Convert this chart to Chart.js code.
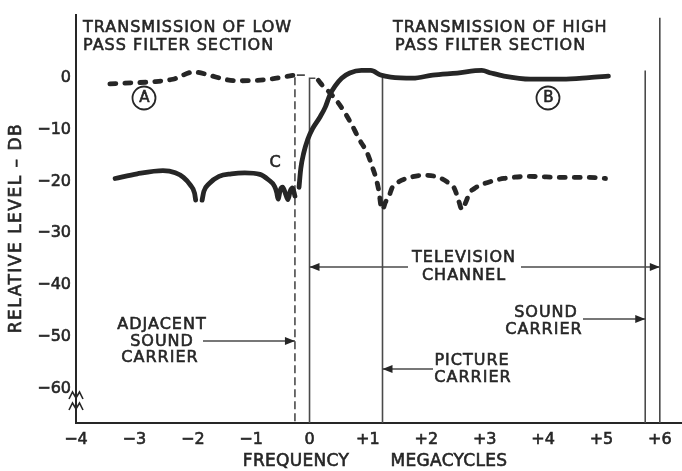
<!DOCTYPE html>
<html>
<head>
<meta charset="utf-8">
<title>Low and high pass filter transmission</title>
<script src="https://cdn.jsdelivr.net/npm/chart.js@4.4.1/dist/chart.umd.min.js"></script>
<style>
  html, body { margin: 0; padding: 0; background: #fff; }
  #wrap { width: 682px; height: 471px; }
</style>
</head>
<body>
<div id="wrap"><canvas id="filterChart" width="682" height="471"></canvas></div>
<script>
// frequency in megacycles from the lower channel edge, level in db
const freqTicks = [-4, -3, -2, -1, 0, 1, 2, 3, 4, 5, 6];
const levelTicks = [0, -10, -20, -30, -40, -50, -60];

// high pass filter section (B); null breaks the curve between lobes
const highPassFreq = [
  -3.33, -2.95, -2.51, -2.30, -2.16, -2.04, -1.97, -1.95, -1.90,
  -1.84, -1.81, -1.72, -1.55, -1.34, -1.11, -0.85, -0.71, -0.60, -0.56, -0.54,
  -0.50, -0.46, -0.41, -0.37, -0.33, -0.29, -0.25, -0.21,
  -0.18, -0.15, -0.10, -0.03, 0.05, 0.18, 0.27, 0.35, 0.44, 0.55, 0.69, 0.89,
  1.05, 1.22, 1.39, 1.77, 2.11, 2.53, 2.95, 3.11, 3.33, 3.78, 4.33, 4.79, 5.12
];
const highPassLevel = [
  -19.4, -18.5, -17.9, -18.3, -19.2, -20.7, -22.2, -23.6, null,
  -23.6, -21.9, -20.4, -19.0, -18.5, -18.3, -18.6, -19.6, -20.9, -22.2, -23.4,
  -21.6, -21.1, -22.4, -23.5, -21.8, -21.2, -22.8, null,
  -21.1, -17.5, -14.5, -11.8, -9.8, -7.5, -5.6, -3.2, -1.5, 0.0, 1.0, 1.5,
  1.5, 0.6, 0.2, 0.0, 0.6, 1.0, 1.5, 1.0, 0.4, -0.2, -0.2, 0.1, 0.4
];

// low pass filter section (A)
const lowPassFreq = [
  -3.42, -3.04, -2.69, -2.34, -1.98, -1.72, -1.46, -1.23, -0.76, -0.36, -0.25, 0.0,
  0.15, 0.23, 0.38, 0.55, 0.72, 0.85, 0.99, 1.07, 1.14, 1.19, 1.22, 1.25,
  1.30, 1.36, 1.41, 1.52, 1.72, 1.94, 2.16, 2.36, 2.48, 2.56, 2.61, 2.68, 2.74,
  2.83, 2.95, 3.16, 3.33, 3.78, 4.33, 4.79, 5.07
];
const lowPassLevel = [
  -1.1, -0.9, -0.7, -0.2, 1.2, 0.6, -0.2, -0.5, -0.3, 0.4, 0.6, null,
  -0.4, -1.5, -3.2, -5.7, -8.9, -11.8, -14.5, -17.0, -19.4, -22.0, -24.5, -25.4,
  -24.0, -22.9, -21.3, -20.1, -19.2, -18.8, -19.0, -20.1, -21.3, -23.9, -25.4, -23.9, -22.2,
  -21.3, -20.6, -19.8, -19.4, -19.0, -19.2, -19.2, -19.4
];

// carrier and channel edge markers, and the level each marker line starts at
const adjacentSoundCarrier = -0.25;
const channelLow = 0;
const pictureCarrier = 1.25;
const soundCarrier = 5.75;
const channelHigh = 6;
const markerFreqs = [adjacentSoundCarrier, channelLow, pictureCarrier, soundCarrier, channelHigh];
const markerTops = [0.6, 0.0, 0.4, 1.5, 11.7];

const X_MIN = -4, X_MAX = 6.38;
const Y_MIN = -66.7, Y_MAX = 12.3;

const INK = '#262626';
const THIN = '#4a4a4a';
const FONT = '"DejaVu Sans", sans-serif';

function toPoints(xs, ys) {
  return xs.map((v, i) => ({ x: v, y: ys[i] }));
}

function markerLine(i, hook) {
  const f = markerFreqs[i], top = markerTops[i];
  const pts = [];
  if (hook) pts.push({ x: f + hook, y: top });
  pts.push({ x: f, y: top }, { x: f, y: Y_MIN });
  return pts;
}

// lettering is filled and lightly stroked to give it the pen weight
function text(ctx, str, px, py, align, size, spacing) {
  ctx.font = size + 'px ' + FONT;
  ctx.letterSpacing = (spacing || 0) + 'px';
  ctx.textAlign = align;
  ctx.textBaseline = 'middle';
  ctx.fillText(str, px, py);
  ctx.save();
  ctx.strokeStyle = INK;
  ctx.lineWidth = 0.6;
  ctx.strokeText(str, px, py);
  ctx.restore();
}

function arrowHead(ctx, tipX, py, dir) {
  ctx.beginPath();
  ctx.moveTo(tipX, py);
  ctx.lineTo(tipX - dir * 10, py - 4);
  ctx.lineTo(tipX - dir * 10, py + 4);
  ctx.closePath();
  ctx.fill();
}

function hLine(ctx, x1, x2, py) {
  ctx.beginPath();
  ctx.moveTo(x1, py);
  ctx.lineTo(x2, py);
  ctx.stroke();
}

// labels, arrows and axis break marks
const annotations = {
  id: 'annotations',
  afterDraw(chart) {
    const { ctx, scales: { x } } = chart;
    ctx.save();
    ctx.fillStyle = INK;
    ctx.strokeStyle = THIN;
    ctx.lineWidth = 1.6;

    text(ctx, 'TRANSMISSION OF LOW', 83, 28, 'left', 16, 1);
    text(ctx, 'PASS FILTER SECTION', 83, 46, 'left', 16, 1);
    text(ctx, 'TRANSMISSION OF HIGH', 393, 28, 'left', 16, 1);
    text(ctx, 'PASS FILTER SECTION', 395, 46, 'left', 16, 1);

    // circled section letters
    [['A', 144], ['B', 548]].forEach(([ch, cx]) => {
      ctx.beginPath();
      ctx.arc(cx, 98, 11.5, 0, Math.PI * 2);
      ctx.lineWidth = 1.8;
      ctx.strokeStyle = INK;
      ctx.stroke();
      text(ctx, ch, cx + 0.5, 98.5, 'center', 15, 0);
    });
    text(ctx, 'C', 275, 163, 'center', 16, 0);

    ctx.strokeStyle = THIN;
    ctx.lineWidth = 1.6;

    // television channel span
    const lowPx = x.getPixelForValue(channelLow);
    const highPx = x.getPixelForValue(channelHigh);
    const tvY = 267;
    hLine(ctx, lowPx, 408, tvY);
    hLine(ctx, 521, highPx, tvY);
    arrowHead(ctx, lowPx, tvY, -1);
    arrowHead(ctx, highPx, tvY, 1);
    text(ctx, 'TELEVISION', 464, 258, 'center', 16, 1);
    text(ctx, 'CHANNEL', 464, 276, 'center', 16, 1);

    // adjacent sound carrier
    const adjPx = x.getPixelForValue(adjacentSoundCarrier);
    hLine(ctx, 203, adjPx, 341);
    arrowHead(ctx, adjPx, 341, 1);
    text(ctx, 'ADJACENT', 162, 325, 'center', 16, 1);
    text(ctx, 'SOUND', 162, 342, 'center', 16, 1);
    text(ctx, 'CARRIER', 160, 358, 'center', 16, 1);

    // sound carrier
    const sndPx = x.getPixelForValue(soundCarrier);
    hLine(ctx, 583, sndPx, 319);
    arrowHead(ctx, sndPx, 319, 1);
    text(ctx, 'SOUND', 546, 313, 'center', 16, 1);
    text(ctx, 'CARRIER', 544, 330, 'center', 16, 1);

    // picture carrier
    const picPx = x.getPixelForValue(pictureCarrier);
    hLine(ctx, 433, picPx, 369);
    arrowHead(ctx, picPx, 369, -1);
    text(ctx, 'PICTURE', 472, 361, 'center', 16, 1);
    text(ctx, 'CARRIER', 473, 378, 'center', 16, 1);

    // axis titles
    text(ctx, 'FREQUENCY', 296, 462, 'center', 17, 0.3);
    text(ctx, 'MEGACYCLES', 449, 462, 'center', 17, 0.3);
    ctx.save();
    ctx.translate(17, 228);
    ctx.rotate(-Math.PI / 2);
    text(ctx, 'RELATIVE LEVEL – DB', 0, 0, 'center', 17, 1.5);
    ctx.restore();

    // break marks on the level axis
    const ax = chart.chartArea.left;
    ctx.strokeStyle = INK;
    ctx.lineWidth = 1.6;
    [396, 407].forEach(by => {
      ctx.beginPath();
      ctx.moveTo(ax - 7, by + 3);
      ctx.lineTo(ax - 3.5, by - 4);
      ctx.lineTo(ax, by + 2);
      ctx.lineTo(ax + 3.5, by - 4);
      ctx.lineTo(ax + 7, by + 3);
      ctx.stroke();
    });
    ctx.restore();
  }
};

const curveStyle = {
  pointRadius: 0,
  borderColor: INK,
  borderWidth: 4.8,
  borderCapStyle: 'round',
  borderJoinStyle: 'round',
  cubicInterpolationMode: 'monotone',
  spanGaps: false,
  fill: false
};

const markerStyle = {
  pointRadius: 0,
  borderColor: THIN,
  borderWidth: 1.6,
  tension: 0,
  fill: false
};

const tickFont = { family: FONT, size: 16 };

new Chart(document.getElementById('filterChart'), {
  type: 'line',
  data: {
    datasets: [
      Object.assign({ label: 'High pass filter section', data: toPoints(highPassFreq, highPassLevel) }, curveStyle),
      Object.assign({ label: 'Low pass filter section', data: toPoints(lowPassFreq, lowPassLevel), borderDash: [6, 9] }, curveStyle),
      Object.assign({ label: 'Adjacent sound carrier', data: markerLine(0, 0.17), borderDash: [8, 4] }, markerStyle),
      Object.assign({ label: 'Channel low edge', data: markerLine(1, 0.1) }, markerStyle),
      Object.assign({ label: 'Picture carrier', data: markerLine(2) }, markerStyle),
      Object.assign({ label: 'Sound carrier', data: markerLine(3) }, markerStyle),
      Object.assign({ label: 'Channel high edge', data: markerLine(4) }, markerStyle)
    ]
  },
  options: {
    responsive: false,
    animation: false,
    layout: { padding: { top: 5, right: 0, bottom: 0, left: 0 } },
    plugins: { legend: { display: false }, tooltip: { enabled: false } },
    scales: {
      x: {
        type: 'linear',
        min: X_MIN,
        max: X_MAX,
        afterBuildTicks: s => { s.ticks = freqTicks.map(v => ({ value: v })); },
        afterFit: s => { s.height = 48; },
        grid: { display: false, drawTicks: false },
        border: { display: true, color: INK, width: 2 },
        ticks: {
          padding: 7,
          color: INK,
          textStrokeColor: INK,
          textStrokeWidth: 0.6,
          font: tickFont,
          maxRotation: 0,
          callback: v => v > 0 ? '+' + v : (v < 0 ? '−' + Math.abs(v) : '0')
        }
      },
      y: {
        type: 'linear',
        min: Y_MIN,
        max: Y_MAX,
        afterBuildTicks: s => { s.ticks = levelTicks.map(v => ({ value: v })); },
        afterFit: s => { s.width = 76; },
        grid: { display: false, drawTicks: false },
        border: { display: true, color: INK, width: 2 },
        ticks: {
          padding: 5,
          color: INK,
          textStrokeColor: INK,
          textStrokeWidth: 0.6,
          font: tickFont,
          callback: v => v < 0 ? '−' + Math.abs(v) : '0'
        }
      }
    }
  },
  plugins: [annotations]
});
</script>
</body>
</html>
